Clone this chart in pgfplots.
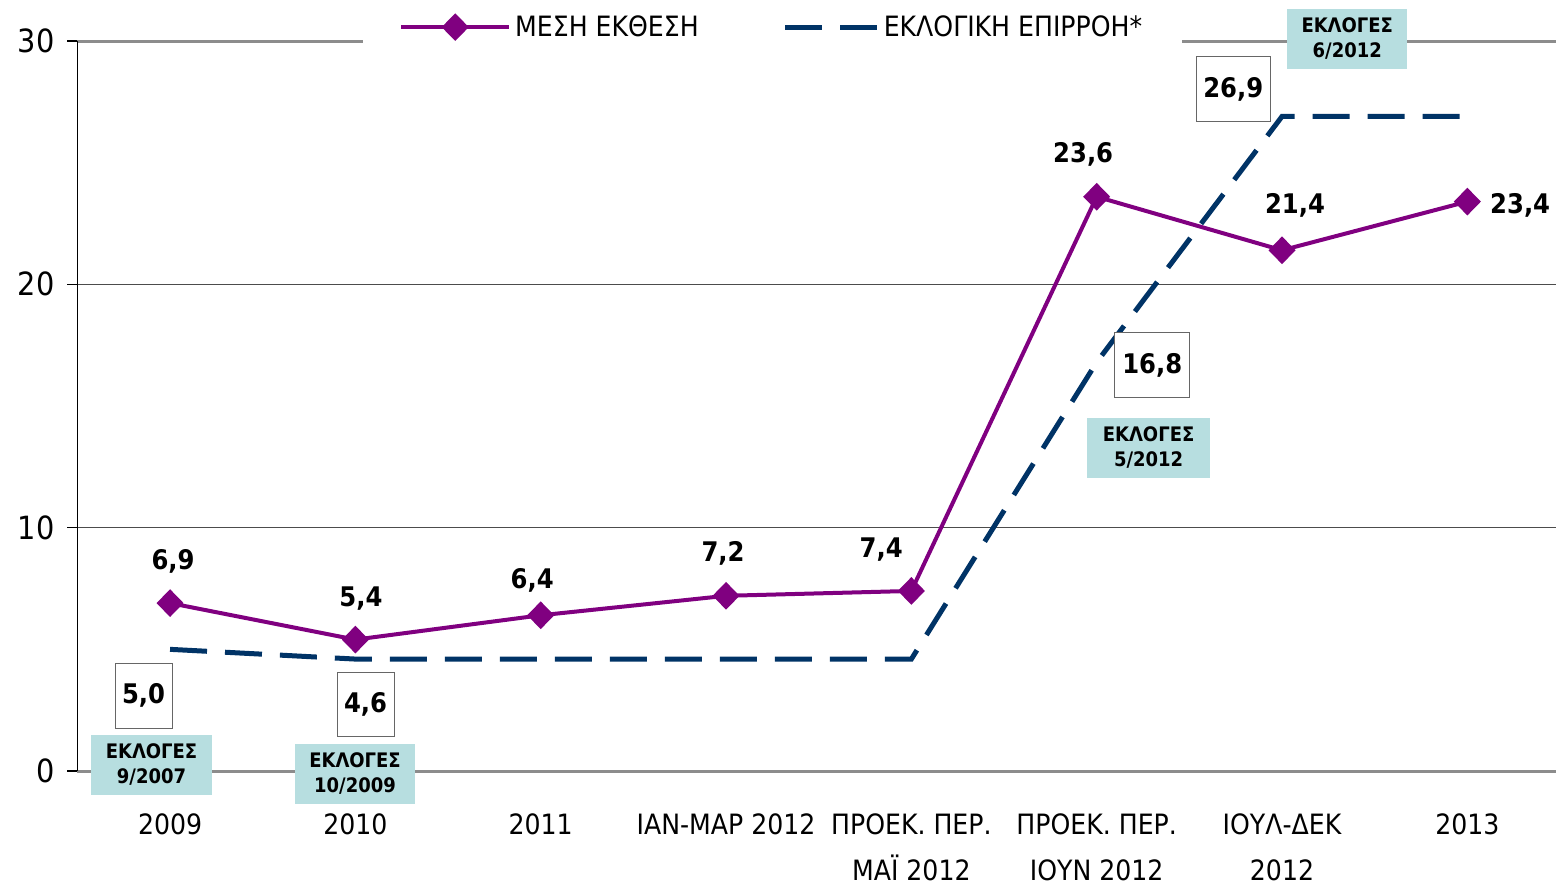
\documentclass[border=0pt]{standalone}
\usepackage{fontspec}
\setmainfont{DejaVuSansCondensed}[Extension=.ttf,BoldFont=DejaVuSansCondensed-Bold]
\usepackage{pgfplots}
\pgfplotsset{compat=1.18}
\definecolor{mpurple}{RGB}{128,0,128}
\definecolor{mnavy}{RGB}{0,51,102}
\definecolor{mteal}{RGB}{183,222,224}
\definecolor{mgray}{RGB}{140,140,140}
\newcommand{\lbl}{\bfseries\fontsize{13.5}{15}\selectfont}
\newcommand{\tealf}{\bfseries\fontsize{10}{12.5}\selectfont}
\newcommand{\tickf}{\fontsize{14}{23}\selectfont}
\newcommand{\ytickf}{\fontsize{16}{18}\selectfont}
\pgfplotsset{
  purpleleg/.style={legend image code/.code={\draw[##1,mark=none] (0pt,0pt) -- (54pt,0pt); \draw[##1] plot coordinates {(27pt,0pt)};}},
  navyleg/.style={legend image code/.code={\draw[##1] (0pt,0pt) -- (46pt,0pt);}},
}
\begin{document}
\begin{tikzpicture}
\useasboundingbox (-38.7pt,-57pt) rectangle (739.3pt,385.5pt);
\begin{axis}[
  scale only axis, width=741.3pt, height=365pt,
  xmin=-0.5, xmax=7.5, ymin=0, ymax=30,
  clip=false,
  axis line style={draw=none},
  ytick={0,10,20,30}, yticklabels={0,10,20,30},
  xtick={0,...,7},
  xticklabels={2009,2010,2011,ΙΑΝ-ΜΑΡ 2012,{ΠΡΟΕΚ. ΠΕΡ.\\ΜΑΪ 2012},{ΠΡΟΕΚ. ΠΕΡ.\\ΙΟΥΝ 2012},{ΙΟΥΛ-ΔΕΚ\\2012},2013},
  xticklabel style={align=center, font=\tickf, yshift=-13pt},
  yticklabel style={font=\ytickf, xshift=-3pt},
  x tick style={draw=none},
  y tick style={black, line width=0.6pt},
  tick align=outside, major tick length=5pt,
  tick pos=left,
  ymajorgrids, grid style={black!70, line width=0.5pt},
  legend style={at={(axis description cs:0.469,1.019)}, anchor=center, draw=none, fill=white,
     font=\tickf, legend columns=2, inner xsep=18pt, inner ysep=4pt,
     /tikz/every even column/.append style={column sep=40pt}},
]
\draw[mgray, line width=1.5pt] (axis cs:-0.5,30) -- (axis cs:7.5,30);
\draw[mgray, line width=1.5pt] (axis cs:-0.5,0) -- (axis cs:7.5,0);
\draw[black, line width=0.75pt] (axis cs:-0.5,0) -- (axis cs:-0.5,30);

\addplot[mnavy, line width=2.5pt, dash pattern=on 18.5pt off 9pt, forget plot]
  coordinates {(0,5.0) (1,4.6) (2,4.6) (3,4.6) (4,4.6) (5,16.8) (6,26.9) (7,26.9)};
\addplot[mpurple, line width=2pt, mark=diamond*, mark size=5.5pt, mark options={solid, xscale=1.3}, purpleleg]
  coordinates {(0,6.9) (1,5.4) (2,6.4) (3,7.2) (4,7.4) (5,23.6) (6,21.4) (7,23.4)};
\addlegendentry{ΜΕΣΗ ΕΚΘΕΣΗ}
\addlegendimage{mnavy, line width=2.5pt, dash pattern=on 18.5pt off 9pt, navyleg}
\addlegendentry{ΕΚΛΟΓΙΚΗ ΕΠΙΡΡΟΗ*}

\node[font=\lbl] at (axis cs:0.016,8.63) {6,9};
\node[font=\lbl] at (axis cs:1.03,7.07) {5,4};
\node[font=\lbl] at (axis cs:1.954,7.85) {6,4};
\node[font=\lbl] at (axis cs:2.984,8.96) {7,2};
\node[font=\lbl] at (axis cs:3.837,9.12) {7,4};
\node[font=\lbl] at (axis cs:4.927,25.36) {23,6};
\node[font=\lbl] at (axis cs:6.07,23.26) {21,4};
\node[font=\lbl] at (axis cs:7.285,23.26) {23,4};

\node[draw=black!60, fill=white, line width=0.5pt, minimum width=28.5pt, minimum height=32.5pt, inner sep=0pt, font=\lbl] at (axis cs:-0.143,3.10) {5,0};
\node[draw=black!60, fill=white, line width=0.5pt, minimum width=28.5pt, minimum height=32pt, inner sep=0pt, font=\lbl] at (axis cs:1.055,2.75) {4,6};
\node[draw=black!60, fill=white, line width=0.5pt, minimum width=37.5pt, minimum height=32.5pt, inner sep=0pt, font=\lbl] at (axis cs:5.30,16.67) {16,8};
\node[draw=black!60, fill=white, line width=0.5pt, minimum width=37pt, minimum height=32.5pt, inner sep=0pt, font=\lbl] at (axis cs:5.737,28.01) {26,9};

\node[fill=mteal, minimum width=60.5pt, minimum height=30pt, inner sep=0pt, align=center, font=\tealf] at (axis cs:-0.1,0.247) {ΕΚΛΟΓΕΣ\\9/2007};
\node[fill=mteal, minimum width=60pt, minimum height=30pt, inner sep=0pt, align=center, font=\tealf] at (axis cs:0.998,-0.12) {ΕΚΛΟΓΕΣ\\10/2009};
\node[fill=mteal, minimum width=61.5pt, minimum height=30pt, inner sep=0pt, align=center, font=\tealf] at (axis cs:5.28,13.28) {ΕΚΛΟΓΕΣ\\5/2012};
\node[fill=mteal, minimum width=60pt, minimum height=30pt, inner sep=0pt, align=center, font=\tealf] at (axis cs:6.352,30.09) {ΕΚΛΟΓΕΣ\\6/2012};
\end{axis}
\end{tikzpicture}
\end{document}
